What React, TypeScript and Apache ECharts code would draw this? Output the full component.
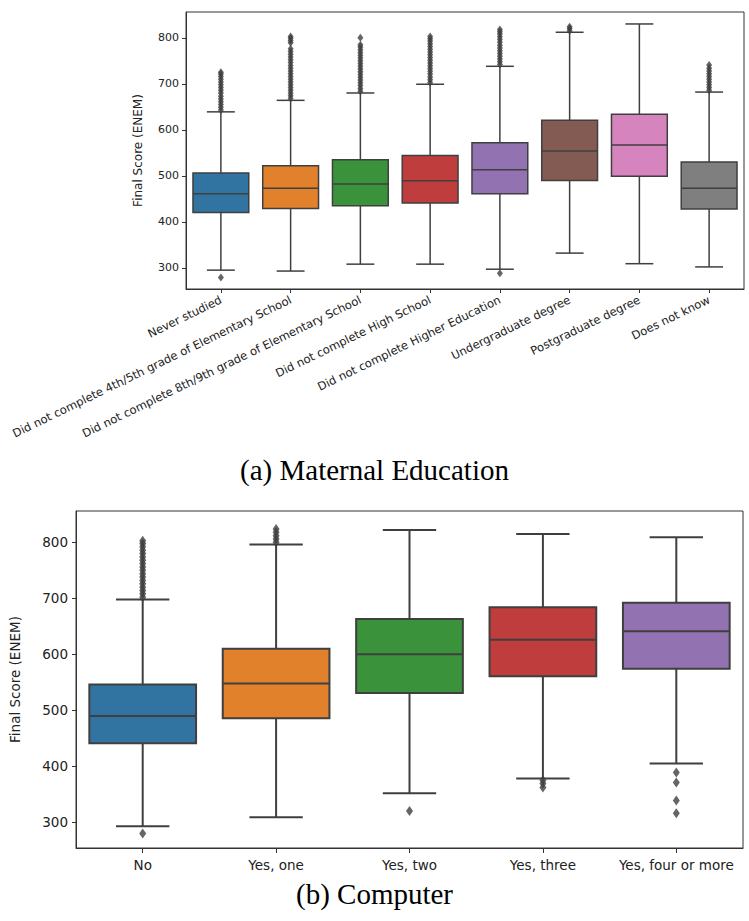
import React, { useEffect, useRef } from "react";
import * as echarts from "echarts";

// (a) Maternal Education
const eduCategories = [
  "Never studied",
  "Did not complete 4th/5th grade of Elementary School",
  "Did not complete 8th/9th grade of Elementary School",
  "Did not complete High School",
  "Did not complete Higher Education",
  "Undergraduate degree",
  "Postgraduate degree",
  "Does not know",
];
const eduLow = [295, 293, 308, 308, 297, 332, 309, 302];
const eduQ1 = [420, 429, 435, 441, 461, 490, 499, 428];
const eduMedian = [461, 473, 482, 489, 513, 554, 567, 473];
const eduQ3 = [506, 522, 535, 544, 572, 621, 634, 530];
const eduHigh = [639, 664, 680, 699, 738, 812, 830, 682];
const eduOutliers = [
  [279, 643, 649, 655, 661, 667, 673, 680, 686, 692, 698, 704, 710, 716, 721, 725],
  [668, 674, 680, 686, 692, 698, 704, 710, 716, 722, 728, 734, 740, 746, 752, 758, 764, 770, 776, 789, 794, 799, 803],
  [684, 690, 696, 702, 708, 714, 720, 726, 732, 738, 744, 750, 756, 762, 768, 774, 780, 785, 800],
  [703, 709, 715, 721, 727, 733, 739, 745, 751, 757, 763, 769, 775, 781, 787, 793, 798, 803],
  [288, 742, 748, 754, 760, 766, 772, 778, 784, 790, 796, 802, 808, 813, 818],
  [815, 820, 824],
  [],
  [686, 692, 698, 704, 710, 716, 722, 728, 734, 741],
];

// (b) Computer
const pcCategories = ["No", "Yes, one", "Yes, two", "Yes, three", "Yes, four or more"];
const pcLow = [293, 309, 352, 378, 405];
const pcQ1 = [441, 486, 531, 561, 574];
const pcMedian = [490, 548, 600, 626, 641];
const pcQ3 = [546, 610, 663, 684, 692];
const pcHigh = [698, 796, 822, 815, 809];
const pcOutliers = [
  [280, 702, 708, 714, 720, 726, 732, 738, 744, 750, 756, 762, 768, 774, 780, 786, 792, 798, 803],
  [800, 806, 812, 818, 824],
  [320],
  [375, 369, 362],
  [389, 371, 339, 316],
];

const scoreTicks = [300, 400, 500, 600, 700, 800];

const palette = ["#3274a1", "#e1812c", "#3a923a", "#c03d3e", "#9372b2", "#845b53", "#d684bd", "#7f7f7f"];
const edge = "#3f3f3f";

function boxRows(low: number[], q1: number[], med: number[], q3: number[], high: number[]) {
  return low.map((v, i) => [i, v, q1[i], med[i], q3[i], high[i]]);
}

function outlierRows(groups: number[][]) {
  const rows: number[][] = [];
  groups.forEach((g, i) => g.forEach((v) => rows.push([i, v])));
  return rows;
}

function makeRenderer(lineWidth: number) {
  return (params: any, api: any) => {
    const idx = api.value(0);
    const lo = api.coord([idx, api.value(1)]);
    const q1 = api.coord([idx, api.value(2)]);
    const med = api.coord([idx, api.value(3)]);
    const q3 = api.coord([idx, api.value(4)]);
    const hi = api.coord([idx, api.value(5)]);
    const band = api.size([1, 0])[0];
    const half = band * 0.4;
    const cap = band * 0.2;
    const x = lo[0];
    const ls = { stroke: edge, lineWidth };
    return {
      type: "group",
      children: [
        { type: "line", shape: { x1: x, y1: q1[1], x2: x, y2: lo[1] }, style: ls },
        { type: "line", shape: { x1: x, y1: q3[1], x2: x, y2: hi[1] }, style: ls },
        { type: "line", shape: { x1: x - cap, y1: lo[1], x2: x + cap, y2: lo[1] }, style: ls },
        { type: "line", shape: { x1: x - cap, y1: hi[1], x2: x + cap, y2: hi[1] }, style: ls },
        {
          type: "rect",
          shape: { x: x - half, y: q3[1], width: half * 2, height: q1[1] - q3[1] },
          style: { fill: palette[params.dataIndex % palette.length], stroke: edge, lineWidth },
        },
        { type: "line", shape: { x1: x - half, y1: med[1], x2: x + half, y2: med[1] }, style: ls },
      ],
    };
  };
}

const sans = "DejaVu Sans";

export default function App() {
  const ref = useRef<HTMLDivElement>(null);

  useEffect(() => {
    document.body.style.margin = "0";
    if (!ref.current) return;
    const chart = echarts.init(ref.current, null, { renderer: "svg" });

    const yAxisBase = (fontSize: number, nameSize: number, nameGap: number, margin: number) => ({
      type: "value",
      min: 254,
      max: 856,
      name: "Final Score (ENEM)",
      nameLocation: "middle",
      nameGap,
      nameTextStyle: { fontFamily: sans, fontSize: nameSize, color: "#222222" },
      splitLine: { show: false },
      axisLine: { show: true, lineStyle: { color: "#333", width: 1 } },
      axisTick: { show: true, length: 4, customValues: scoreTicks, lineStyle: { color: "#333" } },
      axisLabel: { customValues: scoreTicks, fontFamily: sans, fontSize, color: "#222", margin },
    });

    chart.setOption({
      animation: false,
      backgroundColor: "#ffffff",
      grid: [
        { left: 186, top: 12, width: 558, height: 277, show: true, borderColor: "#333", borderWidth: 1 },
        { left: 67.5, top: 511, width: 675.5, height: 337, show: true, borderColor: "#333", borderWidth: 1 },
      ],
      xAxis: [
        {
          type: "category",
          gridIndex: 0,
          data: eduCategories,
          axisLine: { show: true, lineStyle: { color: "#333" } },
          axisTick: { show: true, alignWithLabel: true, length: 4, lineStyle: { color: "#333" } },
          axisLabel: { rotate: 26, interval: 0, fontFamily: sans, fontSize: 11.5, color: "#222", margin: 10 },
        },
        {
          type: "category",
          gridIndex: 1,
          data: pcCategories,
          axisLine: { show: true, lineStyle: { color: "#333" } },
          axisTick: { show: true, alignWithLabel: true, length: 5, lineStyle: { color: "#333" } },
          axisLabel: { interval: 0, fontFamily: sans, fontSize: 13.5, color: "#222", margin: 10 },
        },
      ],
      yAxis: [
        { ...yAxisBase(11, 12, 42, 7), gridIndex: 0 },
        { ...yAxisBase(13.5, 13.5, 54, 8), gridIndex: 1 },
      ],
      series: [
        {
          type: "custom",
          xAxisIndex: 0,
          yAxisIndex: 0,
          renderItem: makeRenderer(1.5),
          encode: { x: 0, y: [1, 2, 3, 4, 5] },
          data: boxRows(eduLow, eduQ1, eduMedian, eduQ3, eduHigh),
          z: 2,
        },
        {
          type: "scatter",
          xAxisIndex: 0,
          yAxisIndex: 0,
          symbol: "diamond",
          symbolSize: [6, 8],
          itemStyle: { color: edge },
          data: outlierRows(eduOutliers),
          z: 3,
        },
        {
          type: "custom",
          xAxisIndex: 1,
          yAxisIndex: 1,
          renderItem: makeRenderer(2),
          encode: { x: 0, y: [1, 2, 3, 4, 5] },
          data: boxRows(pcLow, pcQ1, pcMedian, pcQ3, pcHigh),
          z: 2,
        },
        {
          type: "scatter",
          xAxisIndex: 1,
          yAxisIndex: 1,
          symbol: "diamond",
          symbolSize: [7, 10],
          itemStyle: { color: edge },
          data: outlierRows(pcOutliers),
          z: 3,
        },
      ],
      graphic: [
        {
          type: "text",
          left: "center",
          top: 455,
          style: { text: "(a) Maternal Education", font: '29px "Liberation Serif"', fill: "#000" },
        },
        {
          type: "text",
          left: "center",
          top: 879,
          style: { text: "(b) Computer", font: '29px "Liberation Serif"', fill: "#000" },
        },
      ],
    });

    return () => chart.dispose();
  }, []);

  return <div ref={ref} style={{ width: 749, height: 921 }} />;
}
